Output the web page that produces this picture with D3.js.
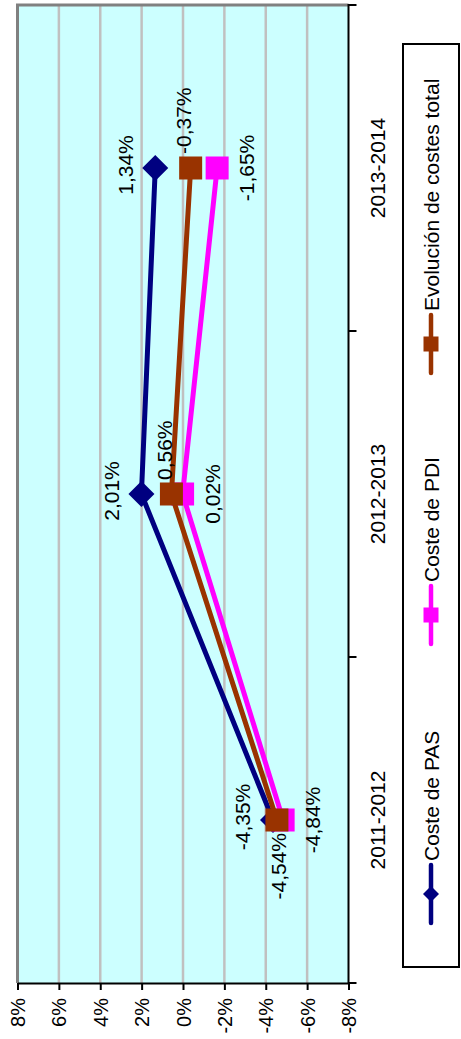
<!DOCTYPE html>
<html><head><meta charset="utf-8">
<script src="https://cdnjs.cloudflare.com/ajax/libs/d3/7.8.5/d3.min.js"></script>
<style>
html,body{margin:0;padding:0;background:#fff;}
svg{display:block;font-family:"Liberation Sans",Arial,sans-serif;}
</style></head>
<body>
<svg id="chart" width="461" height="1039"></svg>
<script>
const categories = ["2011-2012", "2012-2013", "2013-2014"];
const seriesNames = ["Coste de PAS", "Coste de PDI", "Evolución de costes total"];
const pasValues = [-4.35, 2.01, 1.34];
const pdiValues = [-4.84, 0.02, -1.65];
const totalValues = [-4.54, 0.56, -0.37];
const valueTicks = [8, 6, 4, 2, 0, -2, -4, -6, -8];

const colors = ["#000080", "#FF00FF", "#993300"];
const markers = ["diamond", "square", "square"];
const series = [pasValues, pdiValues, totalValues].map((vals, i) => ({
  name: seriesNames[i], color: colors[i], marker: markers[i],
  points: vals.map((v, j) => ({cat: categories[j], v}))
}));

const svg = d3.select("#chart");
const L = 17.5, R = 348.5, T = 5, B = 983;

const x = d3.scaleLinear().domain([8, -8]).range([L, R]);
const y = d3.scalePoint().domain(categories).range([B, T]).padding(0.5);
const yb = d3.scaleBand().domain(categories).range([B, T]);

// plot background
svg.append("rect").attr("x", L).attr("y", T).attr("width", R - L).attr("height", B - T).attr("fill", "#CCFFFF");

// gridlines
svg.append("g").selectAll("line").data(valueTicks.filter(t => t !== 8 && t !== -8)).join("line")
  .attr("x1", d => x(d)).attr("x2", d => x(d)).attr("y1", T).attr("y2", B)
  .attr("stroke", "#C0C0C0").attr("stroke-width", 2.5);

// gray border top/left
svg.append("path").attr("d", `M${L},${B}V${T}H${R}`).attr("fill", "none")
  .attr("stroke", "#808080").attr("stroke-width", 3);

// value axis (bottom)
const fmtTick = d => (d < 0 ? "-" : "") + Math.abs(d) + "%";
const xAxis = d3.axisBottom(x).tickValues(valueTicks).tickSize(7).tickSizeOuter(0).tickFormat(fmtTick);
const gx = svg.append("g").attr("transform", `translate(0,${B})`).call(xAxis);
gx.select(".domain").attr("stroke", "#000").attr("stroke-width", 2);
gx.selectAll(".tick line").attr("stroke", "#000").attr("stroke-width", 2);
gx.selectAll(".tick text")
  .attr("font-size", 20).attr("fill", "#000")
  .attr("transform", "translate(0,15) rotate(-90)")
  .attr("x", 0).attr("y", 0).attr("dy", "0.35em")
  .attr("text-anchor", "end");

// category axis (right)
const gy = svg.append("g");
gy.append("line").attr("x1", R).attr("x2", R).attr("y1", T - 1).attr("y2", B + 1)
  .attr("stroke", "#000").attr("stroke-width", 2);
const bounds = categories.map(c => yb(c)).concat([yb(categories[0]) + yb.bandwidth()]);
gy.selectAll("line.tk").data(bounds).join("line").attr("class", "tk")
  .attr("x1", R).attr("x2", R + 8).attr("y1", d => d).attr("y2", d => d)
  .attr("stroke", "#000").attr("stroke-width", 2);
gy.selectAll("text").data(categories).join("text")
  .attr("transform", d => `translate(378,${y(d)}) rotate(-90)`)
  .attr("dy", "0.35em").attr("text-anchor", "middle").attr("font-size", 21).text(d => d);

// series lines & markers
const line = d3.line().x(d => x(d.v)).y(d => y(d.cat));
function drawMarker(g, type, size, color) {
  if (type === "diamond") {
    g.append("path").attr("d", `M0,${-size}L${size},0L0,${size}L${-size},0Z`).attr("fill", color);
  } else {
    g.append("rect").attr("x", -size).attr("y", -size).attr("width", 2 * size).attr("height", 2 * size).attr("fill", color);
  }
}
series.forEach(s => {
  const g = svg.append("g");
  g.append("path").datum(s.points).attr("d", line).attr("fill", "none")
    .attr("stroke", s.color).attr("stroke-width", 5).attr("stroke-linejoin", "round");
  s.points.forEach(p => {
    const m = g.append("g").attr("transform", `translate(${x(p.v)},${y(p.cat)})`);
    drawMarker(m, s.marker, s.marker === "diamond" ? 13 : 11.5, s.color);
  });
});

// data labels
const fmtVal = v => v.toFixed(2).replace(".", ",") + "%";
const lab = svg.append("g").attr("font-size", 21).attr("fill", "#000");
series.forEach((s, si) => {
  s.points.forEach((p, j) => {
    const px = x(p.v), py = y(p.cat);
    let tx = px, ty = py, anchor = "middle";
    if (si === 0) { tx = px - 30; ty = py - 3; }
    else if (si === 1) { tx = px + 30; ty = py; }
    else if (j === 0) { tx = px + 2; ty = py + 13; anchor = "end"; }
    else { tx = px - 7; ty = py - 14; anchor = "start"; }
    lab.append("text").attr("transform", `translate(${tx},${ty}) rotate(-90)`)
      .attr("dy", "0.35em").attr("text-anchor", anchor).text(fmtVal(p.v));
  });
});

// legend
const lg = svg.append("g");
lg.append("rect").attr("x", 403).attr("y", 44).attr("width", 56).attr("height", 923)
  .attr("fill", "#fff").attr("stroke", "#000").attr("stroke-width", 2);
const legendY = [894, 615, 344];
series.forEach((s, i) => {
  const g = lg.append("g").attr("transform", `translate(431,${legendY[i]})`);
  g.append("line").attr("x1", 0).attr("x2", 0).attr("y1", -29).attr("y2", 29)
    .attr("stroke", s.color).attr("stroke-width", 4.5).attr("stroke-linecap", "round");
  drawMarker(g, s.marker, s.marker === "diamond" ? 8 : 7.5, s.color);
  g.append("text").attr("transform", "translate(1,-33) rotate(-90)")
    .attr("dy", "0.35em").attr("text-anchor", "start").attr("font-size", 21).text(s.name);
});
</script>
</body></html>
